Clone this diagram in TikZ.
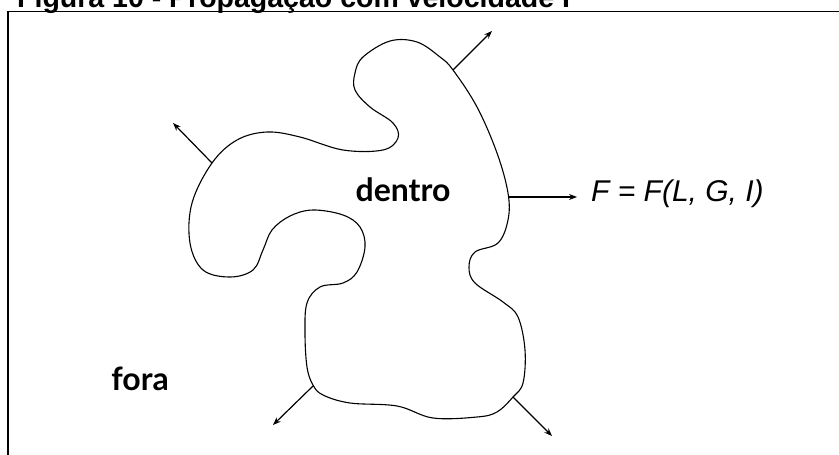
\documentclass[tikz,border=0pt]{standalone}
\usepackage{fontspec}
\setmainfont{Liberation Sans}
\newfontfamily\handfont{Lato}
\usepackage{tikz}
\usetikzlibrary{arrows.meta, positioning, calc}

\tikzset{
  region/.style={font=\handfont\bfseries\fontsize{32}{36}\selectfont},
  speed/.style={->, line width=1.2pt},
}

\begin{document}
\begin{tikzpicture}[>={Stealth[length=8pt,width=6pt]}, x=1pt, y=-1pt]
        \useasboundingbox (0,0) rectangle (839,455);

        % Title, cut by the page top
        \node[anchor=base west, inner sep=0, font=\bfseries\fontsize{28.5}{32}\selectfont] (title) at (17,7) {Figura 10 - Propaga\c{c}\~ao com velocidade F};

        % Frame
        \draw[line width=1.5pt] (8,455) -- (8,11.5) -- (839,11.5);

        % Front between inside and outside
        \draw[line width=1.1pt] plot[smooth cycle, tension=0.6] coordinates {
          (363,57) (390,41) (417,42) (440,57) (453,70) (477,107) (497,153)
          (508,193) (508,220) (498,243) (475,252) (469,267) (475,283)
          (503,302) (518,317) (525,350) (523,383) (513,397) (497,412)
          (477,417) (433,418) (397,406) (350,403) (323,395) (313,385)
          (307,367) (305,333) (307,303) (320,287) (343,283) (357,272)
          (365,247) (360,227) (343,215) (313,210) (290,216) (272,230)
          (263,250) (253,270) (230,277) (203,270) (190,243) (192,203)
          (212,163) (237,140) (267,132) (300,137) (343,150) (383,150)
          (398,138) (393,123) (370,107) (355,90) (355,73)};

        % Points on the front and arrow ends
        \coordinate (topR) at (453,70);   \coordinate (topREnd) at (492,31);
        \coordinate (left) at (212,163);  \coordinate (leftEnd) at (173,123);
        \coordinate (right) at (508,197);
        \coordinate (botL) at (313,386);  \coordinate (botLEnd) at (273,425);
        \coordinate (botR) at (513,397);  \coordinate (botREnd) at (552,436);

        % Labels
        \node[region] (inside) at (403,190) {dentro};
        \node[region] (outside) at (140,379) {fora};
        \node[anchor=west, inner sep=0, font=\itshape\fontsize{30}{34}\selectfont] (formula) at (591,194) {F = F(L, G, I)};

        % Normal speed arrows
        \draw[speed] (topR) -- (topREnd);
        \draw[speed] (left) -- (leftEnd);
        \draw[speed, shorten >=14pt] (right) -- (right -| formula.west);
        \draw[speed] (botL) -- (botLEnd);
        \draw[speed] (botR) -- (botREnd);
    \end{tikzpicture}
\end{document}
